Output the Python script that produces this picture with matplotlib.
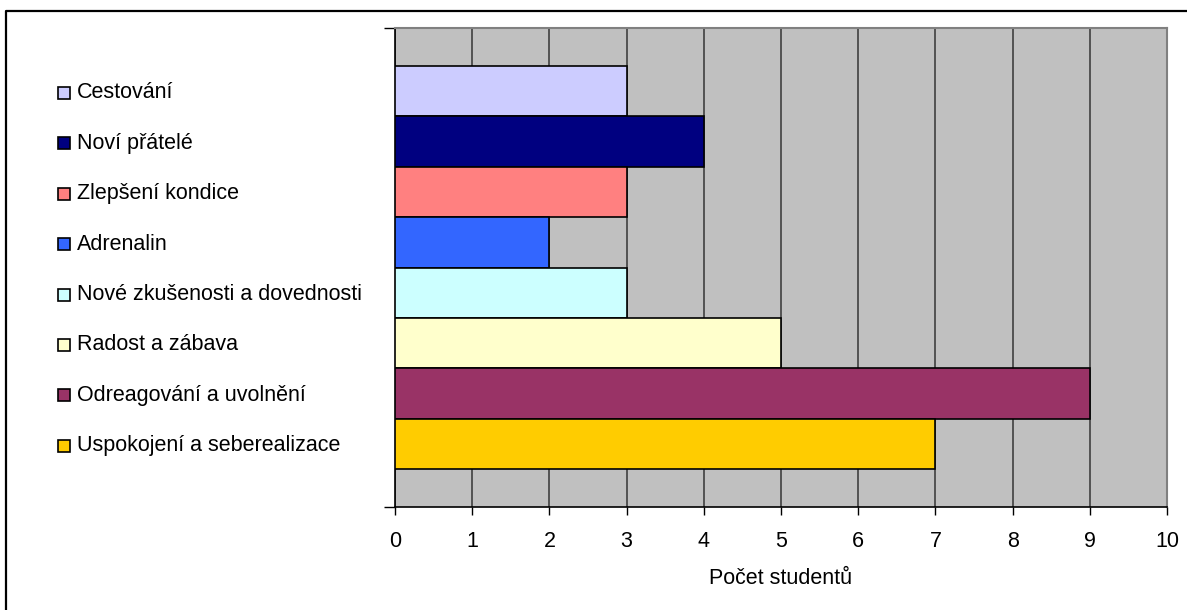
import matplotlib
matplotlib.use("Agg")
import matplotlib.pyplot as plt
from matplotlib.patches import Rectangle
from matplotlib.lines import Line2D

plt.rcParams['font.family'] = ['Liberation Sans', 'DejaVu Sans']

categories = ["Cestování", "Noví přátelé", "Zlepšení kondice", "Adrenalin",
              "Nové zkušenosti a dovednosti", "Radost a zábava",
              "Odreagování a uvolnění", "Uspokojení a seberealizace"]
values = [3, 4, 3, 2, 3, 5, 9, 7]
colors = ["#CCCCFF", "#000080", "#FF8080", "#3366FF",
          "#CCFFFF", "#FFFFCC", "#993366", "#FFCC00"]
xticks = list(range(0, 11))
xlabel = "Počet studentů"

FS = 15.5
W, H = 1187, 610
fig = plt.figure(figsize=(W / 100, H / 100), dpi=100)

# outer border (only top and left edges fall inside the image)
fig.lines.append(Line2D([6 / W, 6 / W, 1.0], [0.0, 1 - 11 / H, 1 - 11 / H],
                        transform=fig.transFigure, color="black", linewidth=1.6))

x0, x1, y0, y1 = 395, 1167, 28, 507
ax = fig.add_axes([x0 / W, 1 - y1 / H, (x1 - x0) / W, (y1 - y0) / H])
ax.set_facecolor("#C0C0C0")

n = len(categories)
ypos = [n - 1 - i for i in range(n)]
ax.barh(ypos, values, height=1.0, color=colors, edgecolor="black",
        linewidth=1.2, zorder=3)

ax.set_xlim(0, 10)
ax.set_ylim(-1.25, n - 1 + 1.25)
ax.set_xticks(xticks)
ax.set_xticklabels([str(t) for t in xticks], fontsize=FS)
ax.set_yticks([-1.25, n - 1 + 1.25])
ax.set_yticklabels(["", ""])
ax.tick_params(axis="x", direction="out", length=6, width=1, pad=11, colors="black")
ax.tick_params(axis="y", direction="out", length=8, width=1)
ax.xaxis.grid(True, color="#404040", linewidth=1.2, zorder=1)
ax.set_axisbelow(True)
for s in ["top", "right"]:
    ax.spines[s].set_color("#808080")
    ax.spines[s].set_linewidth(1.5)
ax.spines["left"].set_color("black")
ax.spines["bottom"].set_color("black")
ax.spines["left"].set_linewidth(1.2)
ax.spines["bottom"].set_linewidth(1.2)
ax.set_xlabel(xlabel, fontsize=FS, labelpad=12)

# legend (manual layout, entries top to bottom)
ly0, lstep = 93, 50.4
for i, (cat, col) in enumerate(zip(categories, colors)):
    yc = ly0 + i * lstep
    fig.patches.append(Rectangle((58 / W, 1 - (yc + 6) / H), 12 / W, 12 / H,
                                 transform=fig.transFigure, facecolor=col,
                                 edgecolor="black", linewidth=1.2))
    fig.text(77 / W, 1 - yc / H, cat, fontsize=FS, va="center", ha="left")

fig.savefig("out.png", dpi=100)
